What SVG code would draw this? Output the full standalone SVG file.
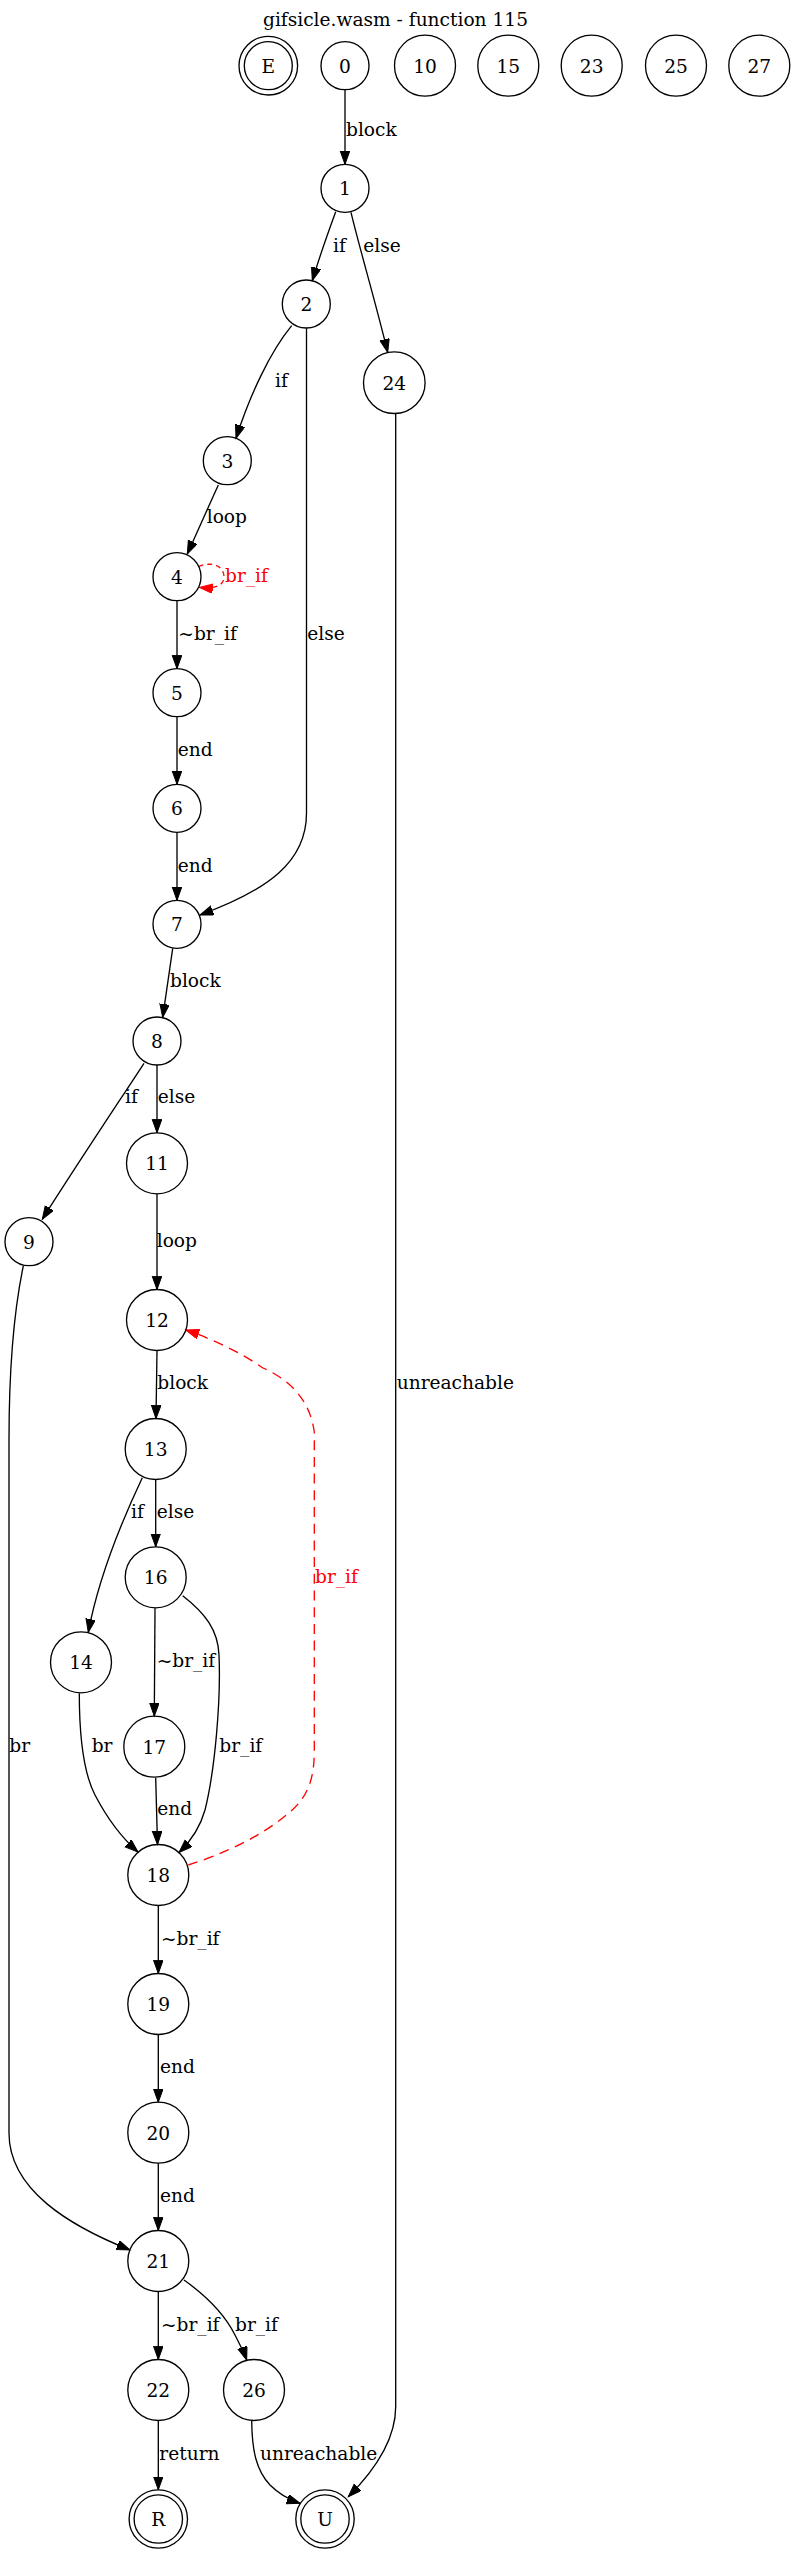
<svg xmlns="http://www.w3.org/2000/svg" width="796" height="2555" viewBox="0 0 796 2555">
<style>
text{font-family:"DejaVu Serif","Liberation Serif",serif;font-size:18.6px;fill:#000}
.n{text-anchor:middle}
.red{fill:#ff0000}
circle{fill:none;stroke:#000;stroke-width:1.33}
.e{fill:none;stroke:#000;stroke-width:1.33}
.d{fill:none;stroke:#ff0000;stroke-width:1.33;stroke-dasharray:10,6.7}
</style>
<defs>
<marker id="a" markerUnits="userSpaceOnUse" markerWidth="15" markerHeight="11" refX="13.3" refY="4.8" orient="auto">
<path d="M0,0 L13.3,4.8 L0,9.6 Z" fill="#000" stroke="#000" stroke-width="1"/>
</marker>
<marker id="ar" markerUnits="userSpaceOnUse" markerWidth="15" markerHeight="11" refX="13.3" refY="4.8" orient="auto">
<path d="M0,0 L13.3,4.8 L0,9.6 Z" fill="#ff0000" stroke="#ff0000" stroke-width="1"/>
</marker>
</defs>
<rect width="796" height="2555" fill="#fff"/>
<text class="n" x="395.5" y="26">gifsicle.wasm - function 115</text>

<g id="edges">
<path class="e" marker-end="url(#a)" d="M345,89.5 L345,164.3"/>
<text x="346" y="136">block</text>
<path class="e" marker-end="url(#a)" d="M335.7,211.7 C329,230 320,255 312.3,280.7"/>
<text x="333" y="251.7">if</text>
<path class="e" marker-end="url(#a)" d="M351,212.3 C360,250 375,300 387.7,352.3"/>
<text x="363.3" y="251.7">else</text>
<path class="e" marker-end="url(#a)" d="M291.7,325.7 C270,352 250,395 236,438.3"/>
<text x="275" y="387.3">if</text>
<path class="e" marker-end="url(#a)" d="M306.5,328.3 L306.5,813 C306.5,862 268,890 200,915"/>
<text x="307.3" y="640">else</text>
<path class="e" marker-end="url(#a)" d="M218.3,485 L187.3,554"/>
<text x="206.7" y="523.3">loop</text>
<path class="d" style="stroke-dasharray:5,4" marker-end="url(#ar)" d="M198.5,566.5 C212,561 224,566 224,577 C224,585 216,589 199.5,587.5"/>
<text class="red" x="225" y="581.7">br_if</text>
<path class="e" marker-end="url(#a)" d="M177,600.7 L177,668.7"/>
<text x="178.3" y="640">~br_if</text>
<path class="e" marker-end="url(#a)" d="M177,716.7 L177,784.3"/>
<text x="177.7" y="756">end</text>
<path class="e" marker-end="url(#a)" d="M177,832.3 L177,900.3"/>
<text x="177.7" y="871.7">end</text>
<path class="e" marker-end="url(#a)" d="M172.7,948.3 L162.7,1017.3"/>
<text x="170" y="986.7">block</text>
<path class="e" marker-end="url(#a)" d="M144,1063.3 C120,1100 70,1175 42.3,1219.3"/>
<text x="125" y="1103.3">if</text>
<path class="e" marker-end="url(#a)" d="M157,1065 L157,1132.7"/>
<text x="157.7" y="1103.3">else</text>
<path class="e" marker-end="url(#a)" d="M157,1193.8 L157,1289.5"/>
<text x="156.7" y="1246.7">loop</text>
<path class="e" marker-end="url(#a)" d="M157,1350.5 L156,1418.5"/>
<text x="157.3" y="1389.3">block</text>
<path class="e" marker-end="url(#a)" d="M142.3,1477.7 C120,1525 98,1580 88.3,1632.3"/>
<text x="131" y="1518.3">if</text>
<path class="e" marker-end="url(#a)" d="M155.7,1479.5 L155.7,1546.8"/>
<text x="156.7" y="1518.3">else</text>
<path class="e" marker-end="url(#a)" d="M155,1608.3 L154.3,1716"/>
<text x="156.7" y="1666.7">~br_if</text>
<path class="e" marker-end="url(#a)" d="M182.7,1595.7 C205,1613 218,1630 219,1655 C221,1700 215,1770 205,1810 C200,1828 192,1840 179,1852.5"/>
<text x="219.3" y="1751.7">br_if</text>
<path class="e" marker-end="url(#a)" d="M79.3,1693.3 C79.3,1730 82,1770 95,1795 C107,1818 122,1838 138,1852"/>
<text x="91.7" y="1751.7">br</text>
<path class="e" marker-end="url(#a)" d="M155.7,1777.7 L157.5,1844.5"/>
<text x="157.3" y="1815">end</text>
<path class="d" marker-end="url(#ar)" d="M188.3,1865 C220,1855 260,1838 290,1812 C310,1795 314.3,1775 314.3,1750 L314.3,1432 C310,1400 290,1380 263,1368 C240,1352 210,1338 185.7,1330"/>
<text class="red" x="315" y="1582.7">br_if</text>
<path class="e" marker-end="url(#a)" d="M23.3,1266 C12,1320 9,1380 9,1440 L9,2133 C9,2190 70,2226 130,2250"/>
<text x="9.3" y="1751.7">br</text>
<path class="e" marker-end="url(#a)" d="M158.3,1905.5 L158.3,1973.5"/>
<text x="161" y="1945">~br_if</text>
<path class="e" marker-end="url(#a)" d="M158.3,2034.5 L158.3,2102.2"/>
<text x="160" y="2073.3">end</text>
<path class="e" marker-end="url(#a)" d="M158.3,2163.2 L158.3,2230.5"/>
<text x="160" y="2201.7">end</text>
<path class="e" marker-end="url(#a)" d="M158.3,2291.5 L158.3,2359.5"/>
<text x="161" y="2330.7">~br_if</text>
<path class="e" marker-end="url(#a)" d="M184,2280 C205,2295 225,2315 235,2335 C240,2345 244,2352 246.7,2360"/>
<text x="235" y="2330.7">br_if</text>
<path class="e" marker-end="url(#a)" d="M158.3,2420.5 L158.3,2489.8"/>
<text x="159.3" y="2460">return</text>
<path class="e" marker-end="url(#a)" d="M251.7,2420.7 C252,2450 256,2470 270,2485 C280,2495 290,2500 300,2503.3"/>
<text x="260" y="2460">unreachable</text>
<path class="e" marker-end="url(#a)" d="M395.7,413.5 L395.7,2406.7 C395.7,2440 375,2470 348.3,2496.7"/>
<text x="396.7" y="1389.3">unreachable</text>
</g>

<g id="nE"><circle cx="268.3" cy="65.7" r="29.3"/><circle cx="268.3" cy="65.7" r="24"/><text class="n" x="268.3" y="72.5">E</text></g>
<g id="n0"><circle cx="345" cy="65.7" r="24"/><text class="n" x="345" y="72.5">0</text></g>
<g id="n10"><circle cx="425" cy="65.7" r="30.5"/><text class="n" x="425" y="72.5">10</text></g>
<g id="n15"><circle cx="508.3" cy="65.7" r="30.5"/><text class="n" x="508.3" y="72.5">15</text></g>
<g id="n23"><circle cx="591.7" cy="65.7" r="30.5"/><text class="n" x="591.7" y="72.5">23</text></g>
<g id="n25"><circle cx="676" cy="65.7" r="30.5"/><text class="n" x="676" y="72.5">25</text></g>
<g id="n27"><circle cx="759.3" cy="65.7" r="30.5"/><text class="n" x="759.3" y="72.5">27</text></g>
<g id="n1"><circle cx="345" cy="188.3" r="24"/><text class="n" x="345" y="195.1">1</text></g>
<g id="n2"><circle cx="306.3" cy="304" r="24"/><text class="n" x="306.3" y="310.8">2</text></g>
<g id="n24"><circle cx="394.3" cy="382.7" r="30.8"/><text class="n" x="394.3" y="389.5">24</text></g>
<g id="n3"><circle cx="227.3" cy="460.7" r="24"/><text class="n" x="227.3" y="467.5">3</text></g>
<g id="n4"><circle cx="177" cy="576.7" r="24"/><text class="n" x="177" y="583.5">4</text></g>
<g id="n5"><circle cx="177" cy="692.7" r="24"/><text class="n" x="177" y="699.5">5</text></g>
<g id="n6"><circle cx="177" cy="808.3" r="24"/><text class="n" x="177" y="815.1">6</text></g>
<g id="n7"><circle cx="177" cy="924.3" r="24"/><text class="n" x="177" y="931.1">7</text></g>
<g id="n8"><circle cx="157" cy="1041" r="24"/><text class="n" x="157" y="1047.8">8</text></g>
<g id="n9"><circle cx="29" cy="1241.7" r="24"/><text class="n" x="29" y="1248.5">9</text></g>
<g id="n11"><circle cx="157" cy="1163.3" r="30.5"/><text class="n" x="157" y="1170.1">11</text></g>
<g id="n12"><circle cx="157" cy="1320" r="30.5"/><text class="n" x="157" y="1326.8">12</text></g>
<g id="n13"><circle cx="155.7" cy="1449" r="30.5"/><text class="n" x="155.7" y="1455.8">13</text></g>
<g id="n16"><circle cx="155.7" cy="1577.3" r="30.5"/><text class="n" x="155.7" y="1584.1">16</text></g>
<g id="n14"><circle cx="81" cy="1662.3" r="30.5"/><text class="n" x="81" y="1669.1">14</text></g>
<g id="n17"><circle cx="154.3" cy="1746.7" r="30.5"/><text class="n" x="154.3" y="1753.5">17</text></g>
<g id="n18"><circle cx="158.3" cy="1875" r="30.5"/><text class="n" x="158.3" y="1881.8">18</text></g>
<g id="n19"><circle cx="158.3" cy="2004" r="30.5"/><text class="n" x="158.3" y="2010.8">19</text></g>
<g id="n20"><circle cx="158.3" cy="2132.7" r="30.5"/><text class="n" x="158.3" y="2139.5">20</text></g>
<g id="n21"><circle cx="158.3" cy="2261" r="30.5"/><text class="n" x="158.3" y="2267.8">21</text></g>
<g id="n22"><circle cx="158.3" cy="2390" r="30.5"/><text class="n" x="158.3" y="2396.8">22</text></g>
<g id="n26"><circle cx="254" cy="2390" r="30.5"/><text class="n" x="254" y="2396.8">26</text></g>
<g id="nR"><circle cx="158.3" cy="2519" r="29.2"/><circle cx="158.3" cy="2519" r="24.2"/><text class="n" x="158.3" y="2525.8">R</text></g>
<g id="nU"><circle cx="325" cy="2519" r="29.2"/><circle cx="325" cy="2519" r="24.2"/><text class="n" x="325" y="2525.8">U</text></g>
</svg>
